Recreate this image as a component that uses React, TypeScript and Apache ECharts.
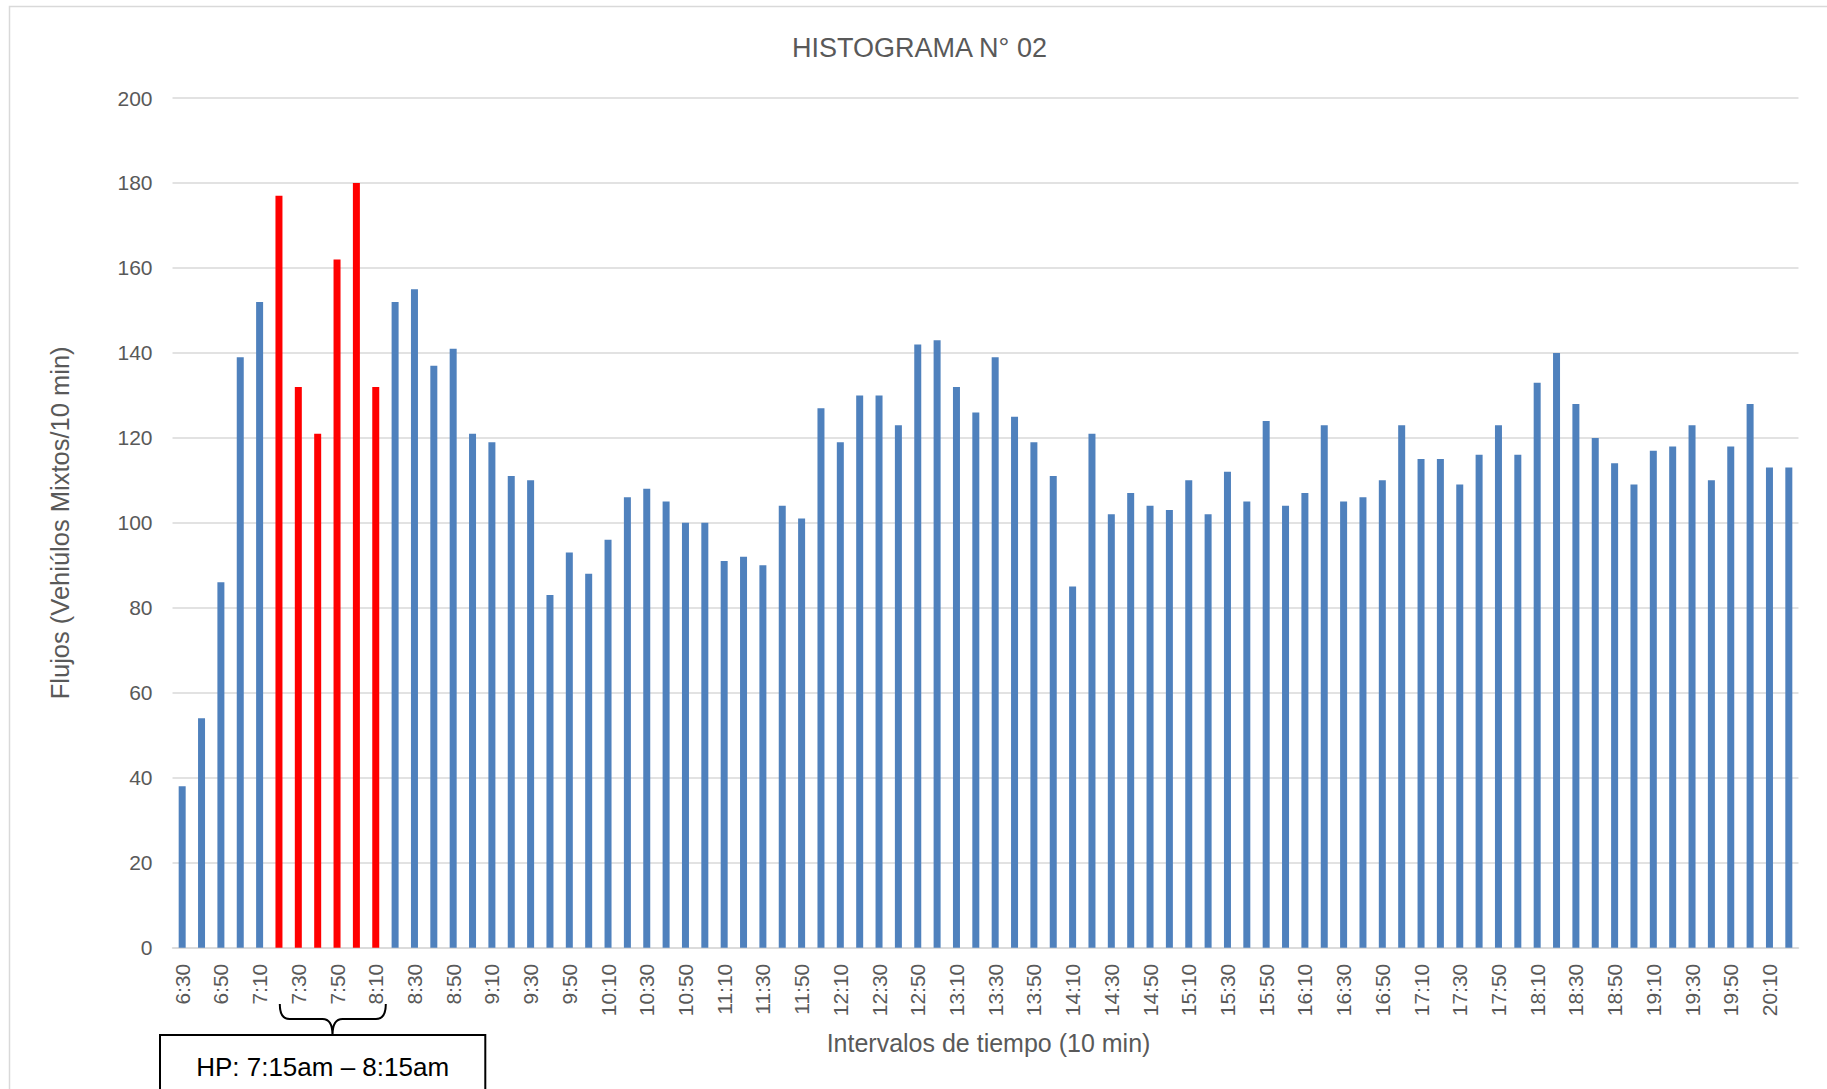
import React, { useEffect, useRef } from "react";
import * as echarts from "echarts";

const categories: string[] = [
  "6:30", "6:40", "6:50", "7:00", "7:10", "7:20", "7:30", "7:40", "7:50", "8:00",
  "8:10", "8:20", "8:30", "8:40", "8:50", "9:00", "9:10", "9:20", "9:30", "9:40",
  "9:50", "10:00", "10:10", "10:20", "10:30", "10:40", "10:50", "11:00", "11:10", "11:20",
  "11:30", "11:40", "11:50", "12:00", "12:10", "12:20", "12:30", "12:40", "12:50", "13:00",
  "13:10", "13:20", "13:30", "13:40", "13:50", "14:00", "14:10", "14:20", "14:30", "14:40",
  "14:50", "15:00", "15:10", "15:20", "15:30", "15:40", "15:50", "16:00", "16:10", "16:20",
  "16:30", "16:40", "16:50", "17:00", "17:10", "17:20", "17:30", "17:40", "17:50", "18:00",
  "18:10", "18:20", "18:30", "18:40", "18:50", "19:00", "19:10", "19:20", "19:30", "19:40",
  "19:50", "20:00", "20:10", "20:20",
];

const flows: number[] = [
  38, 54, 86, 139, 152, 177, 132, 121, 162, 180,
  132, 152, 155, 137, 141, 121, 119, 111, 110, 83,
  93, 88, 96, 106, 108, 105, 100, 100, 91, 92,
  90, 104, 101, 127, 119, 130, 130, 123, 142, 143,
  132, 126, 139, 125, 119, 111, 85, 121, 102, 107,
  104, 103, 110, 102, 112, 105, 124, 104, 107, 123,
  105, 106, 110, 123, 115, 115, 109, 116, 123, 116,
  133, 140, 128, 120, 114, 109, 117, 118, 123, 110,
  118, 128, 113, 113,
];

const peakCategories: string[] = ["7:20", "7:30", "7:40", "7:50", "8:00", "8:10"];

const yTicks = { min: 0, max: 200, interval: 20 };

const titleText = "HISTOGRAMA N° 02";
const yAxisName = "Flujos (Vehiúlos Mixtos/10 min)";
const xAxisName = "Intervalos de tiempo (10 min)";
const peakLabel = "HP: 7:15am – 8:15am";

const BLUE = "#4f81bd";
const RED = "#ff0000";
const GRAY_TEXT = "#595959";
const GRID_GRAY = "#d9d9d9";
const FONT = "'Liberation Sans', Arial, sans-serif";

const braceD =
  "M279.8,1004 Q279.8,1019 289.5,1019 L322.5,1019 Q332.5,1019 332.5,1035 Q332.5,1019 342.5,1019 L376,1019 Q385.8,1019 385.8,1004";

let braceRegistered = false;

export default function App() {
  const ref = useRef<HTMLDivElement>(null);

  useEffect(() => {
    if (!ref.current) return;
    if (!braceRegistered) {
      echarts.graphic.registerShape("hpBrace", echarts.graphic.extendPath(braceD, {}));
      braceRegistered = true;
    }
    const chart = echarts.init(ref.current, undefined, { renderer: "svg" });

    const seriesData = categories.map((c, i) => ({
      value: flows[i],
      itemStyle: { color: peakCategories.includes(c) ? RED : BLUE },
    }));

    chart.setOption({
      animation: false,
      backgroundColor: "#ffffff",
      title: {
        text: titleText,
        left: 914.5,
        top: 29.5,
        textAlign: "center",
        textStyle: {
          fontFamily: FONT,
          fontSize: 27,
          fontWeight: "normal",
          color: GRAY_TEXT,
        },
      },
      grid: {
        left: 172.5,
        right: 28.5,
        top: 98,
        bottom: 141.3,
        containLabel: false,
      },
      xAxis: {
        type: "category",
        data: categories,
        name: xAxisName,
        nameLocation: "middle",
        nameGap: 83,
        nameTextStyle: {
          fontFamily: FONT,
          fontSize: 25,
          color: GRAY_TEXT,
          padding: [0, 0, 0, 6],
        },
        axisLine: { show: true, lineStyle: { color: GRID_GRAY, width: 1.5 } },
        axisTick: { show: false },
        axisLabel: {
          interval: 1,
          rotate: 90,
          margin: 16,
          fontFamily: FONT,
          fontSize: 21,
          color: GRAY_TEXT,
        },
        splitLine: { show: false },
      },
      yAxis: {
        type: "value",
        min: yTicks.min,
        max: yTicks.max,
        interval: yTicks.interval,
        name: yAxisName,
        nameLocation: "middle",
        nameGap: 100,
        nameTextStyle: {
          fontFamily: FONT,
          fontSize: 25.5,
          color: GRAY_TEXT,
        },
        axisLine: { show: false },
        axisTick: { show: false },
        axisLabel: {
          margin: 20,
          fontFamily: FONT,
          fontSize: 21,
          color: GRAY_TEXT,
        },
        splitLine: { show: true, lineStyle: { color: GRID_GRAY, width: 1.5 } },
      },
      series: [
        {
          type: "bar",
          data: seriesData,
          barWidth: 7,
          itemStyle: { color: BLUE },
        },
      ],
      graphic: [
        {
          type: "rect",
          shape: { x: 9.5, y: 6.5, width: 1830, height: 1100 },
          style: { fill: "none", stroke: GRID_GRAY, lineWidth: 1.5 },
          silent: true,
          z: 0,
        },
        {
          type: "hpBrace",
          x: 0,
          y: 0,
          style: { fill: "none", stroke: "#000000", lineWidth: 2 },
          silent: true,
          z: 10,
        },
        {
          type: "rect",
          shape: { x: 160, y: 1035, width: 325.3, height: 80 },
          style: { fill: "#ffffff", stroke: "#000000", lineWidth: 2 },
          silent: true,
          z: 10,
        },
        {
          type: "text",
          x: 322.6,
          y: 1067,
          style: {
            text: peakLabel,
            textAlign: "center",
            textVerticalAlign: "middle",
            fontFamily: FONT,
            fontSize: 26,
            fill: "#000000",
          },
          silent: true,
          z: 11,
        },
      ],
    });

    return () => {
      chart.dispose();
    };
  }, []);

  return (
    <div
      ref={ref}
      style={{ position: "fixed", left: 0, top: 0, width: 1827, height: 1089 }}
    />
  );
}
